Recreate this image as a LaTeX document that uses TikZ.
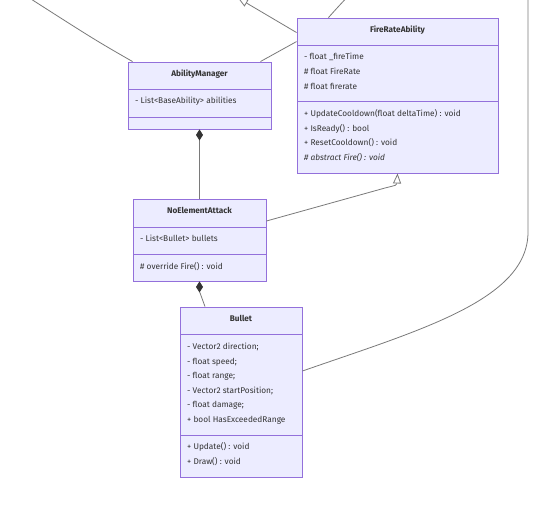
\documentclass[tikz,border=0pt]{standalone}
\usepackage{fontspec}
\setmainfont{Fira Sans}
\usetikzlibrary{arrows.meta}
\definecolor{boxfill}{HTML}{ECECFF}
\definecolor{boxline}{HTML}{9370DB}
\definecolor{textcol}{HTML}{333333}
\definecolor{edgecol}{HTML}{7A7A7A}
\begin{document}
\begin{tikzpicture}[x=1pt,y=-1pt,
  classbox/.style={draw=boxline,fill=boxfill,line width=0.9pt,inner sep=0pt},
  divider/.style={draw=boxline,line width=0.9pt},
  classname/.style={inner sep=0pt,text height=6.4pt,text depth=1.8pt,font=\fontsize{8.2}{9}\selectfont\bfseries,text=textcol},
  member/.style={anchor=west,inner sep=0pt,text height=6.4pt,text depth=1.8pt,font=\fontsize{8.3}{9}\selectfont,text=textcol},
  edge/.style={draw=edgecol,line width=0.8pt},
  inherit/.style={edge,-{Triangle[open,length=10pt,width=8pt,fill=white]}},
  compose/.style={edge,{Diamond[length=11pt,width=7pt,color=textcol]}-}]
\useasboundingbox[fill=white] (0,0) rectangle (548,520);
\clip (0,0) rectangle (548,520);
% class boxes
\node[classbox,minimum width=201pt,minimum height=155pt] (fra) at (397.5,95.5) {};
\node[classbox,minimum width=143pt,minimum height=67pt] (am) at (199.5,95.5) {};
\node[classbox,minimum width=133pt,minimum height=82pt] (nea) at (199.5,240) {};
\node[classbox,minimum width=122pt,minimum height=170pt] (bl) at (241,392) {};
\draw[divider] (297,45)--(498,45);
\draw[divider] (297,101)--(498,101);
\draw[divider] (128,89)--(271,89);
\draw[divider] (128,117)--(271,117);
\draw[divider] (133,227)--(266,227);
\draw[divider] (133,254)--(266,254);
\draw[divider] (180,334)--(302,334);
\draw[divider] (180,435)--(302,435);
% FireRateAbility
\node[classname] (franame) at (397.5,30) {FireRateAbility};
\node[member] (fraa) at (304,57) {- float \_fireTime};
\node[member] (frab) at (304,72) {\# float FireRate};
\node[member] (frac) at (304,87) {\# float firerate};
\node[member] (fram) at (304,114) {+ UpdateCooldown(float deltaTime) : void};
\node[member] (frar) at (304,129) {+ IsReady() : bool};
\node[member] (fras) at (304,143) {+ ResetCooldown() : void};
\node[member] (fraf) at (304,158) {\itshape \# abstract Fire() : void};
% AbilityManager
\node[classname] (amname) at (199.5,74) {AbilityManager};
\node[member] (ama) at (135,101) {- List<BaseAbility> abilities};
% NoElementAttack
\node[classname] (neaname) at (199.5,211) {NoElementAttack};
\node[member] (neaa) at (140,239) {- List<Bullet> bullets};
\node[member] (neaf) at (140,267) {\# override Fire() : void};
% Bullet
\node[classname] (blname) at (241,319) {Bullet};
\node[member] (bla) at (187,347) {- Vector2 direction;};
\node[member] (blb) at (187,362) {- float speed;};
\node[member] (blc) at (187,376) {- float range;};
\node[member] (bld) at (187,391) {- Vector2 startPosition;};
\node[member] (ble) at (187,405) {- float damage;};
\node[member] (blf) at (187,420) {+ bool HasExceededRange};
\node[member] (blu) at (187,447) {+ Update() : void};
\node[member] (bldr) at (187,462) {+ Draw() : void};
% free ends above the picture
\coordinate (upa) at (20,-8);
\coordinate (upb) at (238,-2);
\coordinate (upc) at (352,-8);
\coordinate (upd) at (528,-5);
% connectors
\draw[edge] ([xshift=5pt]am.north west) .. controls (95,40) .. (upa);
\draw[edge] ([xshift=-11pt]am.north east) -- ([yshift=-24pt]fra.north west);
\draw[inherit] ([yshift=-15pt]fra.north west) -- (upb);
\draw[edge] ([xshift=-69pt]fra.north) .. controls (337,8) .. (upc);
\draw[edge] ([yshift=21pt]bl.east) .. controls (420,330) and (528,300) .. (528,232) -- (upd);
\draw[compose] (am.south) -- (nea.north);
\draw[compose] (nea.south) -- ++(0,10) -- ([xshift=-36pt]bl.north);
\draw[inherit] ([yshift=19pt]nea.east) -- (385,188) .. controls (397,185) .. (fra.south);
\end{tikzpicture}
\end{document}
